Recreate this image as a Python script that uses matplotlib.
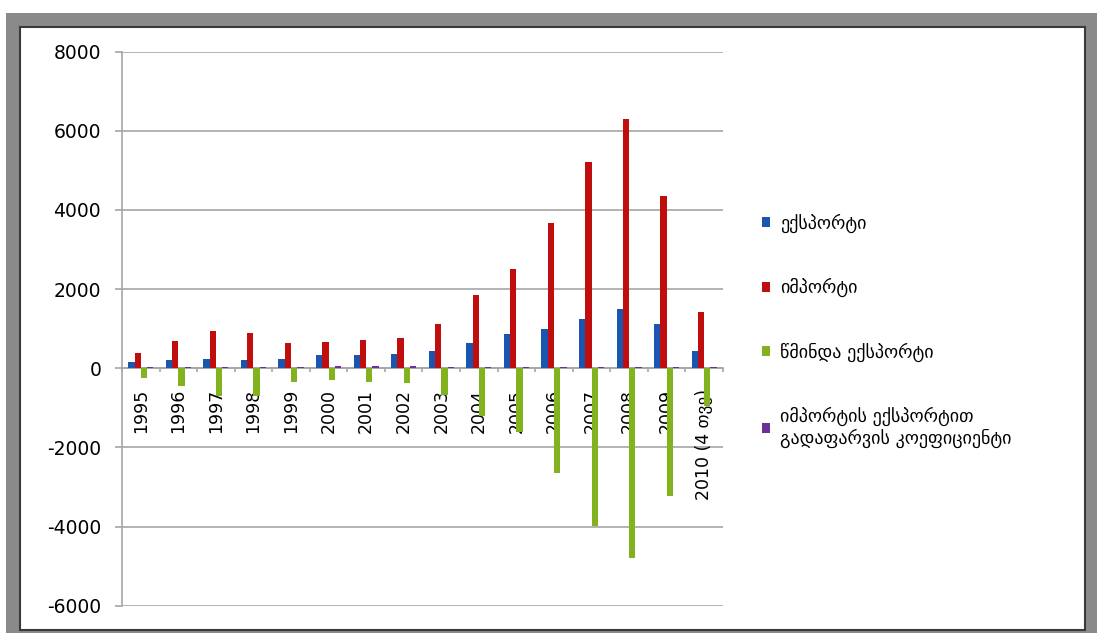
import numpy as np
import matplotlib
matplotlib.use("Agg")
import matplotlib.pyplot as plt
from matplotlib.patches import Rectangle
from matplotlib.ticker import FixedLocator

years = ["1995", "1996", "1997", "1998", "1999", "2000", "2001", "2002",
         "2003", "2004", "2005", "2006", "2007", "2008", "2009", "2010 (4 თვე)"]
exports = [155, 205, 235, 205, 235, 330, 330, 365, 445, 645, 865, 985, 1235, 1490, 1115, 445]
imports = [385, 700, 950, 880, 630, 660, 705, 755, 1115, 1855, 2505, 3665, 5225, 6290, 4350, 1410]
net_exports = [-240, -460, -700, -690, -340, -300, -340, -365, -680, -1200, -1610, -2640, -3990, -4800, -3220, -965]
coverage = [40, 29, 25, 23, 37, 50, 47, 48, 40, 35, 35, 27, 24, 24, 26, 32]

labels = ["ექსპორტი", "იმპორტი", "წმინდა ექსპორტი",
          "იმპორტის ექსპორტით\nგადაფარვის კოეფიციენტი"]
colors = ["#1a56b0", "#c00d0d", "#82b31e", "#6a2f99"]
yticks = [-6000, -4000, -2000, 0, 2000, 4000, 6000, 8000]

plt.rcParams['font.family'] = ['DejaVu Sans']
plt.rcParams['axes.unicode_minus'] = False

fig = plt.figure(figsize=(10.97, 6.33), dpi=100)
W, H = 1097, 633
# outer gray frame and inner white panel
fig.patches.append(Rectangle((6 / W, 0), 1 - 6 / W, (H - 13) / H, transform=fig.transFigure,
                             facecolor="#8a8a8a", edgecolor="none", zorder=-10))
fig.patches.append(Rectangle((20 / W, 3 / H), (1085 - 20) / W, (630 - 27) / H, transform=fig.transFigure,
                             facecolor="white", edgecolor="#3a3a3a", linewidth=1.5, zorder=-9))

ax = fig.add_axes([122 / W, 1 - 605.7 / H, (723 - 122) / W, (605.7 - 51.7) / H])
ax.patch.set_alpha(0)

x = np.arange(len(years))
w = 0.167
series = [exports, imports, net_exports, coverage]
handles = []
for i, (vals, c, lab) in enumerate(zip(series, colors, labels)):
    b = ax.bar(x + (i - 1.5) * w, vals, width=w, color=c, label=lab, zorder=2)
    handles.append(b)

# gridlines behind the bars, tick labels in front
for v in yticks:
    ax.axhline(v, color="#a6a6a6", linewidth=1.2, zorder=0)

ax.set_xlim(-0.5, len(years) - 0.5)
ax.set_ylim(-6000, 8000)
ax.set_yticks(yticks)
ax.tick_params(axis='y', labelsize=13.5, length=5, width=1.2, color="#a6a6a6", pad=10)

ax.set_xticks(x)
ax.set_xticklabels(years)
ax.tick_params(axis='x', length=0, pad=15, labelrotation=90, labelsize=12.5)
for t in ax.get_xticklabels():
    t.set_va('top')
    t.set_ha('center')
ax.xaxis.set_minor_locator(FixedLocator(np.arange(-0.5, len(years), 1)))
ax.tick_params(axis='x', which='minor', length=3, width=1.2, color="#a6a6a6")

ax.spines['bottom'].set_position(('data', 0))
for s in ['top', 'right']:
    ax.spines[s].set_visible(False)
for s in ['left', 'bottom']:
    ax.spines[s].set_color("#a6a6a6")
    ax.spines[s].set_linewidth(1.2)
    ax.spines[s].set_zorder(1)

fig.legend(handles=handles, labels=labels, loc='center left',
           bbox_to_anchor=(762 / W, 1 - 331 / H), frameon=False, fontsize=13,
           handlelength=0.45, handleheight=0.45, handletextpad=0.55,
           labelspacing=2.5, borderpad=0, borderaxespad=0)

fig.savefig("out.png", dpi=100)
